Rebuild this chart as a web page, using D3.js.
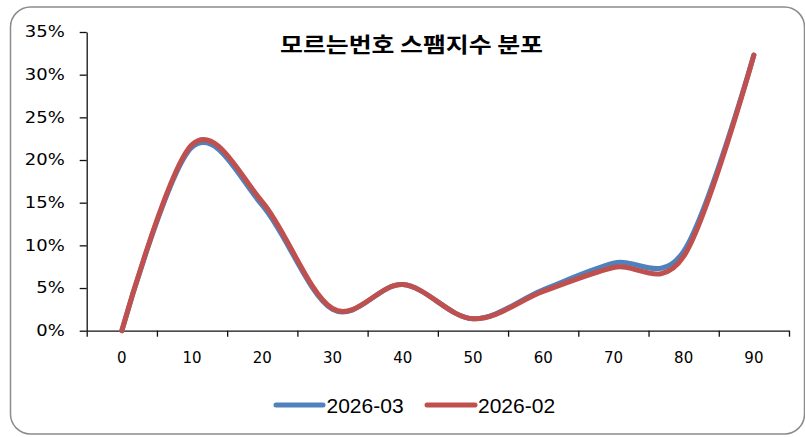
<!DOCTYPE html>
<html>
<head>
<meta charset="utf-8">
<script src="https://cdn.jsdelivr.net/npm/d3@7"></script>
<style>
  html, body { margin: 0; padding: 0; background: #fff; }
  svg { display: block; }
</style>
</head>
<body>
<svg id="chart" width="805" height="437"></svg>
<script>
const categories = ["0", "10", "20", "30", "40", "50", "60", "70", "80", "90"];
const series2026_03 = [0, 21.5, 14.7, 2.5, 5.4, 1.4, 4.8, 7.9, 9.3, 32.3];
const series2026_02 = [0, 21.8, 15.1, 2.6, 5.4, 1.4, 4.6, 7.4, 8.7, 32.3];
const yTicks = [0, 5, 10, 15, 20, 25, 30, 35];
const seriesNames = ["2026-03", "2026-02"];
const seriesColors = ["#4F81BD", "#C0504D"];
const titleText = "모르는번호 스팸지수 분포";

const svg = d3.select("#chart");

// outer rounded border
svg.append("rect")
  .attr("x", 10.5).attr("y", 7).attr("width", 794).attr("height", 427)
  .attr("rx", 20).attr("ry", 20)
  .attr("fill", "#fff").attr("stroke", "#8c8c8c").attr("stroke-width", 1.5);

const plotLeft = 86.7, plotRight = 789, plotTop = 32, plotBottom = 330.7;

const x = d3.scaleBand().domain(categories).range([plotLeft, plotRight]).padding(0);
const xb = d3.scaleLinear().domain([0, categories.length]).range([plotLeft, plotRight]);
const y = d3.scaleLinear().domain([0, 35]).range([plotBottom, plotTop]);
const cx = c => x(c) + x.bandwidth() / 2;

const labelFont = "'DejaVu Sans', sans-serif";

// Y axis
const yAxis = svg.append("g")
  .attr("transform", `translate(${plotLeft},0)`)
  .call(d3.axisLeft(y).tickValues(yTicks).tickFormat(d => d + "%").tickSize(7).tickSizeOuter(0).tickPadding(15));
yAxis.selectAll("text").attr("font-family", labelFont).attr("font-size", 15.5).attr("fill", "#000")
  .each(function () {
    const w = this.getComputedTextLength();
    d3.select(this).attr("textLength", w * 1.16).attr("lengthAdjust", "spacingAndGlyphs");
  });
yAxis.selectAll("line, path").attr("stroke", "#111").attr("stroke-width", 1.3);

// X axis: boundary ticks
const xAxisTicks = svg.append("g")
  .attr("transform", `translate(0,${plotBottom})`)
  .call(d3.axisBottom(xb).ticks(categories.length).tickFormat("").tickSize(6).tickSizeOuter(0));
xAxisTicks.selectAll("line, path").attr("stroke", "#111").attr("stroke-width", 1.3);

// X axis labels
const xAxisLabels = svg.append("g")
  .attr("transform", `translate(0,${plotBottom})`)
  .call(d3.axisBottom(x).tickSize(0).tickPadding(22));
xAxisLabels.select(".domain").remove();
xAxisLabels.selectAll("text").attr("font-family", labelFont).attr("font-size", 15).attr("fill", "#000");

// lines
const line = d3.line()
  .x((d, i) => cx(categories[i]))
  .y(d => y(d))
  .curve(d3.curveCardinal.tension(0));

const allSeries = [series2026_03, series2026_02];
allSeries.forEach((s, k) => {
  svg.append("path")
    .datum(s)
    .attr("d", line)
    .attr("fill", "none")
    .attr("stroke", seriesColors[k])
    .attr("stroke-width", 5)
    .attr("stroke-linecap", "round")
    .attr("stroke-linejoin", "round");
});

// title
svg.append("text")
  .attr("x", 411.5).attr("y", 51.5)
  .attr("text-anchor", "middle")
  .attr("font-family", "'Noto Sans CJK KR', sans-serif")
  .attr("font-weight", "bold")
  .attr("font-size", 21)
  .attr("textLength", 263)
  .attr("lengthAdjust", "spacingAndGlyphs")
  .attr("fill", "#000")
  .text(titleText);

// legend
const legendItems = [
  { x1: 276, x2: 323, tx: 326.5 },
  { x1: 427, x2: 475, tx: 478 }
];
legendItems.forEach((it, k) => {
  svg.append("line")
    .attr("x1", it.x1).attr("x2", it.x2).attr("y1", 405).attr("y2", 405)
    .attr("stroke", seriesColors[k]).attr("stroke-width", 5).attr("stroke-linecap", "round");
  svg.append("text")
    .attr("x", it.tx).attr("y", 412.5)
    .attr("font-family", "'Liberation Sans', Arial, sans-serif")
    .attr("font-size", 21)
    .attr("fill", "#000")
    .text(seriesNames[k]);
});
</script>
</body>
</html>
